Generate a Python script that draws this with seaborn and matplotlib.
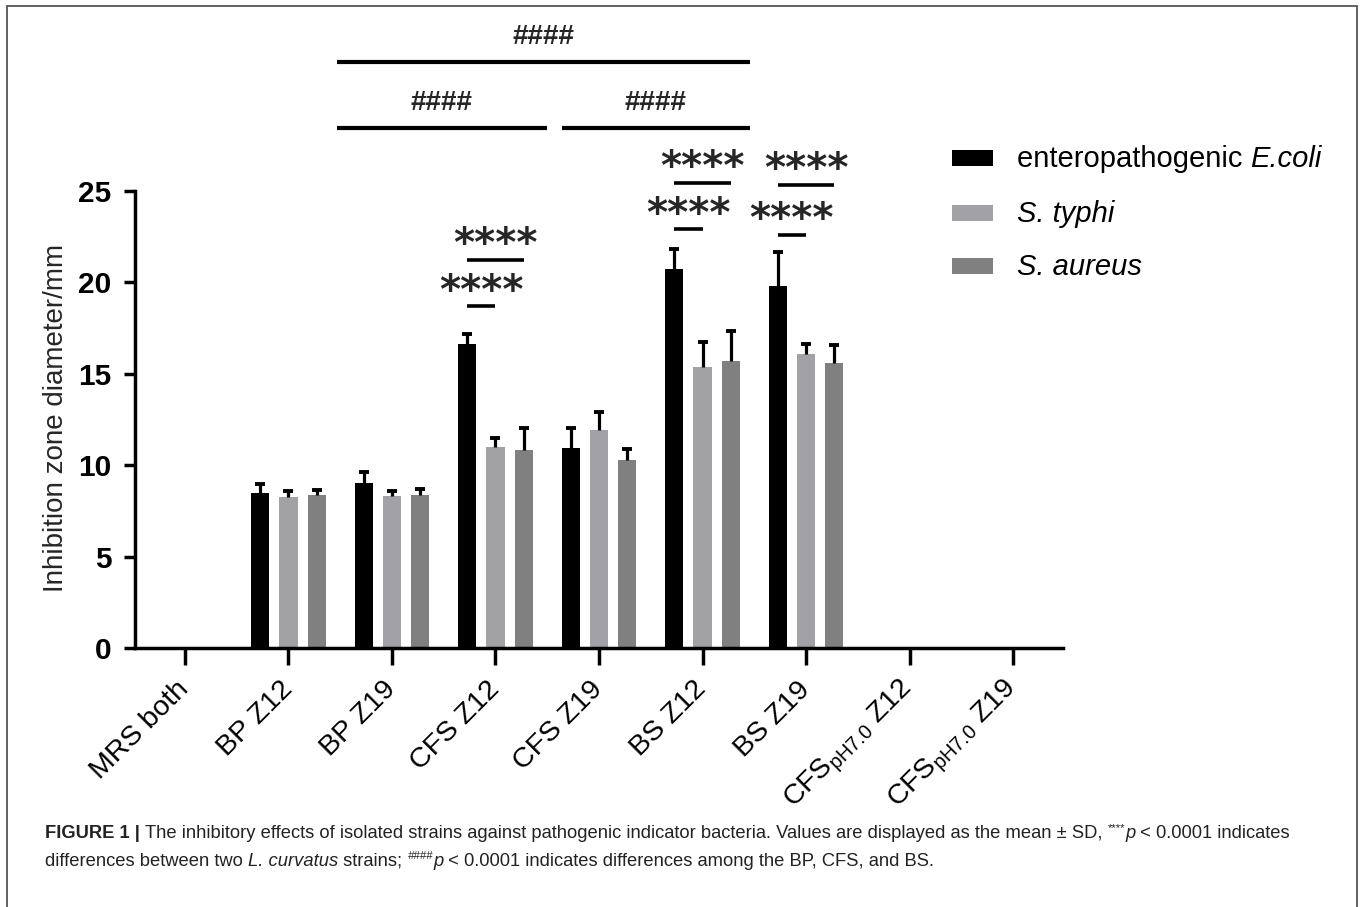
import numpy as np
import pandas as pd
import matplotlib
matplotlib.use("Agg")
import matplotlib.pyplot as plt
import seaborn as sns
from matplotlib.patches import Rectangle

# ---------------- data ----------------
categories = ["MRS both", "BP Z12", "BP Z19", "CFS Z12", "CFS Z19",
              "BS Z12", "BS Z19", "CFS pH7.0 Z12", "CFS pH7.0 Z19"]
tick_labels = ["MRS both", "BP Z12", "BP Z19", "CFS Z12", "CFS Z19",
               "BS Z12", "BS Z19",
               r"CFS$_{\mathrm{pH7.0}}$ Z12", r"CFS$_{\mathrm{pH7.0}}$ Z19"]
series = ["enteropathogenic E.coli", "S. typhi", "S. aureus"]
# legend label runs: (text, italic?)
legend_runs = [[("enteropathogenic ", False), ("E.coli", True)],
               [("S. typhi", True)],
               [("S. aureus", True)]]
colors = ["#000000", "#a2a2a6", "#808080"]

ecoli_mean = [0, 8.46, 9.04, 16.63, 10.92, 20.72, 19.80, 0, 0]
typhi_mean = [0, 8.28, 8.30, 11.00, 11.93, 15.39, 16.06, 0, 0]
aureus_mean = [0, 8.35, 8.35, 10.83, 10.26, 15.72, 15.61, 0, 0]
ecoli_sd = [0, 0.50, 0.60, 0.53, 1.13, 1.08, 1.88, 0, 0]
typhi_sd = [0, 0.29, 0.29, 0.50, 1.00, 1.37, 0.55, 0, 0]
aureus_sd = [0, 0.29, 0.33, 1.20, 0.60, 1.64, 0.97, 0, 0]

y_ticks = [0, 5, 10, 15, 20, 25]

# significance (****): (category index, series a, series b, line height)
star_brackets = [(3, 0, 1, 18.71), (3, 0, 2, 21.23),
                 (5, 0, 1, 22.90), (5, 0, 2, 25.45),
                 (6, 0, 1, 22.60), (6, 0, 2, 25.33)]
star_text = "****"
# significance (####): (x start, x end in category units, line height)
hash_brackets = [(1.466, 5.46, 32.06), (1.466, 3.495, 28.45), (3.64, 5.46, 28.45)]
hash_text = "####"

# caption runs: (text, style) with style in n / b / i / sup / supi
caption_1 = [("FIGURE 1 | ", "b"),
             ("The inhibitory effects of isolated strains against pathogenic indicator bacteria. "
              "Values are displayed as the mean ± SD, ", "n"),
             ("****", "sup"), ("p", "i"), (" < 0.0001 indicates", "n")]
caption_2 = [("differences between two ", "n"), ("L. curvatus", "i"), (" strains; ", "n"),
             ("####", "supi"), ("p", "i"),
             (" < 0.0001 indicates differences among the BP, CFS, and BS.", "n")]

# ---------------- style ----------------
sns.set_theme(style="ticks")
plt.rcParams["font.family"] = ["Liberation Sans", "DejaVu Sans"]
plt.rcParams["mathtext.fontset"] = "custom"
plt.rcParams["mathtext.rm"] = "Liberation Sans"
plt.rcParams["mathtext.it"] = "Liberation Sans:italic"
plt.rcParams["mathtext.bf"] = "Liberation Sans:bold"

W, H = 1360, 907
fig = plt.figure(figsize=(W / 100, H / 100), dpi=100)
ax = fig.add_axes([135 / W, 1 - 648 / H, (1063 - 135) / W, (648 - 191) / H])

rows = []
for s, m in zip(series, [ecoli_mean, typhi_mean, aureus_mean]):
    for c, v in zip(categories, m):
        rows.append({"group": c, "series": s, "value": v})
df = pd.DataFrame(rows)

sns.barplot(data=df, x="group", y="value", hue="series", order=categories,
            hue_order=series, palette=dict(zip(series, colors)),
            width=0.82, gap=0.35, errorbar=None, legend=False,
            saturation=1, linewidth=0, ax=ax)

# error bars (upper only)
centers = []
for cont, sds in zip(ax.containers, [ecoli_sd, typhi_sd, aureus_sd]):
    cs = []
    for p, sd in zip(cont.patches, sds):
        xc = p.get_x() + p.get_width() / 2
        cs.append(xc)
        top = p.get_height()
        if sd > 0:
            ax.vlines(xc, top, top + sd, color="black", lw=2.3, zorder=4)
            ax.plot([xc], [top + sd], marker="_", ms=7.5, mew=2.8,
                    color="black", zorder=4)
    centers.append(cs)

ax.set_xlim(-0.483, 8.483)
ax.set_ylim(0, 25)
ax.set_yticks(y_ticks)
ax.set_yticklabels([str(v) for v in y_ticks], fontsize=21.5, fontweight="bold")
ax.set_xticks(range(len(categories)))
ax.set_xticklabels(tick_labels, fontsize=20.5, rotation=45, ha="right",
                   va="center", rotation_mode="anchor")
ax.set_xlabel("")
ax.set_ylabel("Inhibition zone diameter/mm", fontsize=20)
ax.yaxis.set_label_coords((69 - 135) / 928, 0.504)

sns.despine(ax=ax)
for side in ["left", "bottom"]:
    ax.spines[side].set_linewidth(2.5)
    ax.spines[side].set_color("black")
ax.tick_params(axis="y", length=8, width=2.5, pad=9, colors="black")
ax.tick_params(axis="x", length=12, width=2.5, pad=15, colors="black")

# **** brackets
for cat, a, b, y in star_brackets:
    x1, x2 = centers[a][cat], centers[b][cat]
    ax.plot([x1, x2], [y, y], color="black", lw=2.6, clip_on=False,
            solid_capstyle="butt")
    ax.annotate(star_text, xy=((x1 + x2) / 2, y), xytext=(0, 2.5),
                textcoords="offset points", ha="center", va="baseline",
                fontsize=29, fontweight="bold", family="DejaVu Sans",
                annotation_clip=False)

# #### brackets
for x1, x2, y in hash_brackets:
    ax.plot([x1, x2], [y, y], color="black", lw=3.0, clip_on=False,
            solid_capstyle="butt")
    ax.annotate(hash_text, xy=((x1 + x2) / 2, y), xytext=(0, 13),
                textcoords="offset points", ha="center", va="baseline",
                fontsize=20, fontweight="bold", annotation_clip=False)

fig.canvas.draw()
R = fig.canvas.get_renderer()


def run_text(x_px, y_px, runs, fs, color):
    """Place consecutive text runs; returns created texts and end x in px."""
    made = []
    x = x_px
    for txt, st in runs:
        kw = dict(fontsize=fs, color=color, ha="left", va="baseline")
        yy = y_px
        if st == "b":
            kw["fontweight"] = "bold"
        elif st == "i":
            kw["fontstyle"] = "italic"
        elif st == "sup":
            kw["fontsize"] = fs * 0.62
            yy = y_px - fs * 0.5
        elif st == "supi":
            kw["fontsize"] = fs * 0.62
            kw["fontstyle"] = "italic"
            yy = y_px - fs * 0.5
        t = fig.text(x / W, 1 - yy / H, txt, **kw)
        x += t.get_window_extent(renderer=R).width
        made.append(t)
    return made, x


# legend
sq_y = [158, 213.3, 266]
for runs, col, yy in zip(legend_runs, colors, sq_y):
    fig.patches.append(Rectangle((951.7 / W, 1 - (yy + 8) / H), 41.6 / W, 16 / H,
                                 transform=fig.transFigure, facecolor=col,
                                 edgecolor="none"))
    run_text(1016.7, yy + 8.7,
             [(t, "i" if it else "n") for t, it in runs], 21, "black")

# frame
fig.patches.append(Rectangle((7 / W, -0.02), (1357 - 7) / W, 1 - 6 / H + 0.02,
                             transform=fig.transFigure, facecolor="none",
                             edgecolor="#555555", lw=1.3))

# caption (fit width of first line)
made, xend = run_text(45, 838, caption_1, 12, "#222222")
fs = 12 * (1292 - 45) / (xend - 45)
for t in made:
    t.remove()
run_text(45, 838, caption_1, fs, "#222222")
run_text(45, 866, caption_2, fs, "#222222")

fig.savefig("out.png", dpi=100)
